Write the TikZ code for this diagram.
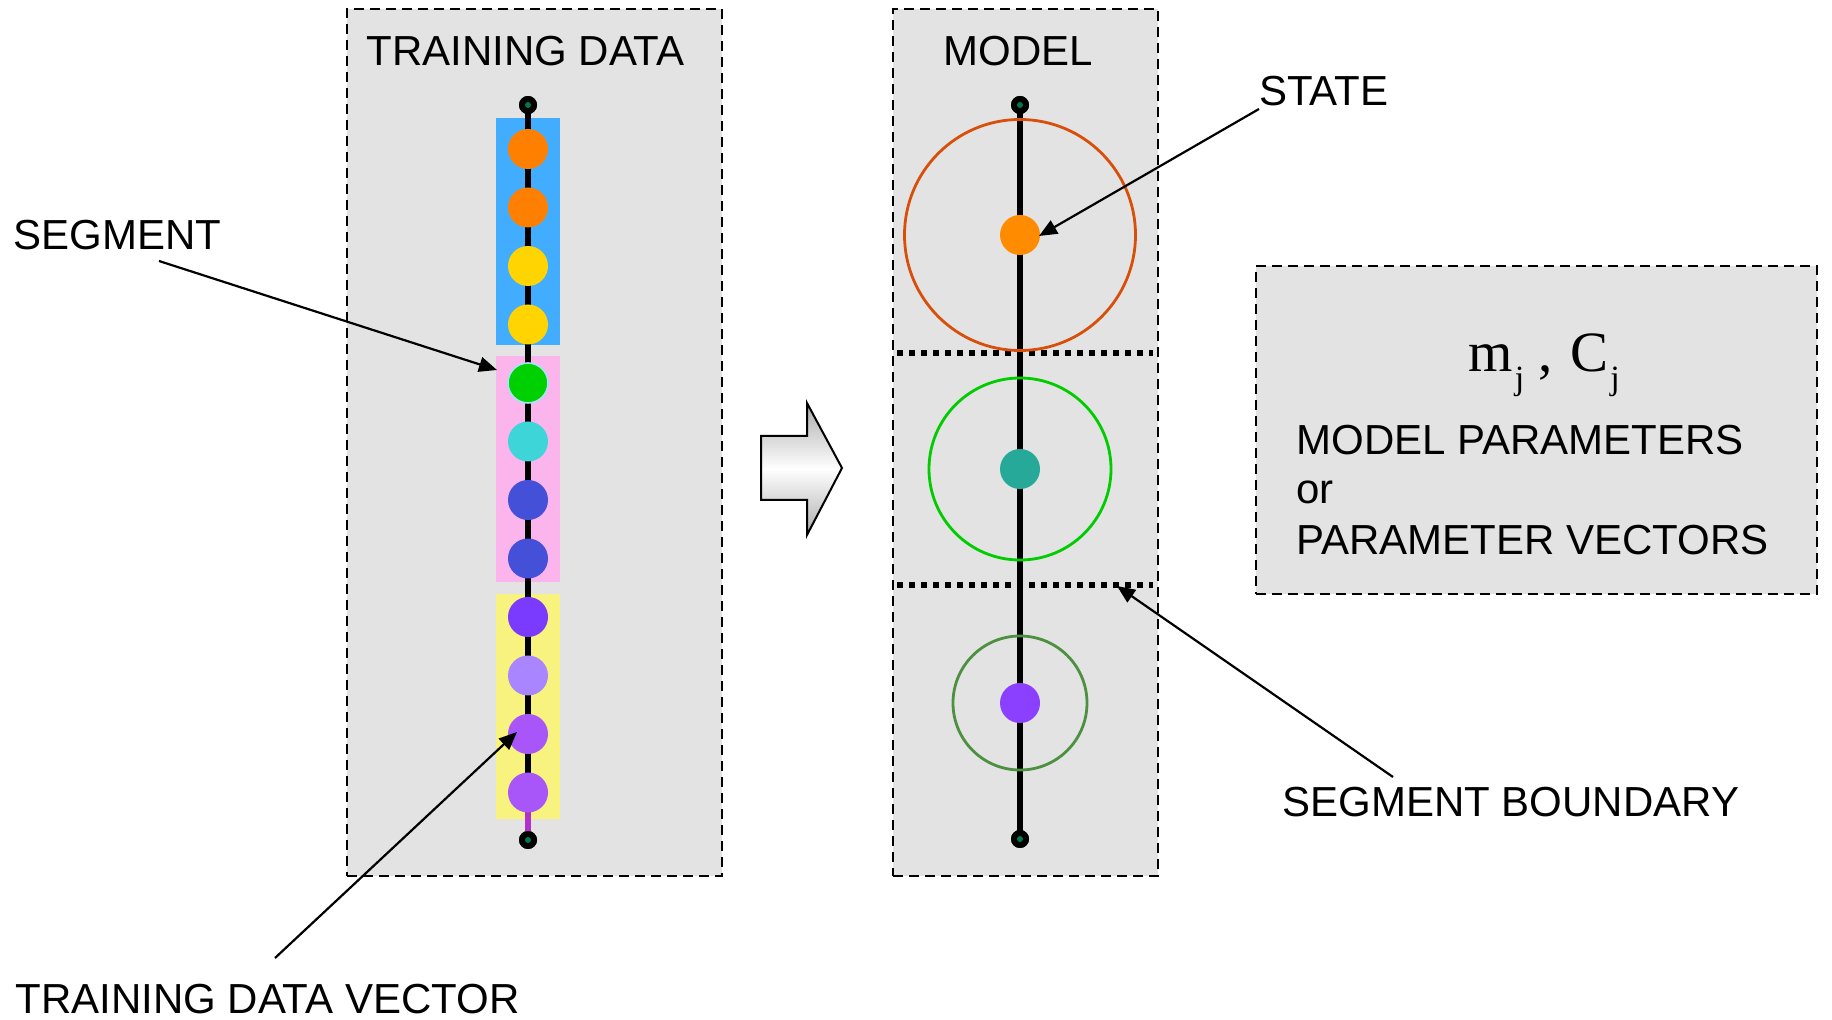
\documentclass[tikz,border=0pt]{standalone}
\usepackage{fontspec}
\setmainfont{Liberation Sans}
\newfontfamily\serifx{Liberation Serif}
\usetikzlibrary{arrows.meta}
\definecolor{panelgray}{HTML}{E3E3E3}
\definecolor{segblue}{HTML}{42ADFF}
\definecolor{segpink}{HTML}{FBB4EC}
\definecolor{segyellow}{HTML}{F8F27E}
\definecolor{cOrange}{HTML}{FF7F00}
\definecolor{cGold}{HTML}{FFD400}
\definecolor{cGreen}{HTML}{00D000}
\definecolor{cCyan}{HTML}{3DD5D8}
\definecolor{cBlue}{HTML}{4450D8}
\definecolor{cViolet}{HTML}{7B3BFF}
\definecolor{cLilac}{HTML}{A985FF}
\definecolor{cPurple}{HTML}{A855FA}
\definecolor{cSeg}{HTML}{B030C8}
\definecolor{dotgreen}{HTML}{007A4A}
\definecolor{ringA}{HTML}{D84F0A}
\definecolor{dotA}{HTML}{FF8C00}
\definecolor{ringB}{HTML}{00CC00}
\definecolor{dotB}{HTML}{27A99A}
\definecolor{ringC}{HTML}{4C9040}
\definecolor{dotC}{HTML}{8C40FF}
\newcommand{\mysubj}{\kern1pt\lower9pt\hbox{\fontsize{17}{17}\selectfont j}}
\begin{document}
\begin{tikzpicture}[x=0.5pt,y=-0.5pt,
  panel/.style={draw=black, fill=panelgray, line width=1.4pt, dash pattern=on 5pt off 3pt, inner sep=0, rectangle},
  lbl/.style={font=\fontsize{21}{25}\selectfont, inner sep=0, anchor=base west},
  vec/.style={circle, inner sep=0, minimum size=20pt},
  enddot/.style={circle, fill=black, inner sep=0, minimum size=9pt,
    path picture={\fill[dotgreen] (path picture bounding box.center) circle (1.5pt);}},
  chainline/.style={line width=3.4pt, black},
  ring/.style={circle, inner sep=0, line width=1.4pt},
  boundary/.style={line width=3pt, dash pattern=on 3pt off 3pt},
  ptr/.style={-{Triangle[length=9pt,width=7.5pt]}, line width=1.1pt},
]
\useasboundingbox (0,0) rectangle (1832,1020);

% panels
\node[panel, minimum width=187.5pt, minimum height=433.5pt] (train) at (534.5,442.5) {};
\node[panel, minimum width=132.5pt, minimum height=433.5pt] (model) at (1025.5,442.5) {};
\node[panel, minimum width=280.5pt, minimum height=164pt] (param) at (1536.5,430) {};

% segment backgrounds
\fill[segblue] (496,118) rectangle (560,345);
\fill[segpink] (496,356) rectangle (560,582);
\fill[segyellow] (496,594) rectangle (560,819);

% training chain
\node[enddot] (ttop) at (528,105) {};
\node[enddot] (tbot) at (528,840) {};
\coordinate (tlast) at (528,792.5);
\draw[chainline] (ttop.center) -- (tlast);
\draw[line width=3.4pt, cSeg] (tlast) -- (tbot.center);
\node[enddot] at (ttop) {};
\node[enddot] at (tbot) {};

\node[vec, fill=cOrange] (t1) at (528,149) {};
\node[vec, fill=cOrange] (t2) at (528,207.5) {};
\node[vec, fill=cGold] (t3) at (528,266) {};
\node[vec, fill=cGold] (t4) at (528,324.5) {};
\node[vec, fill=cGreen, draw=cyan!35, line width=0.8pt] (t5) at (528,383) {};
\node[vec, fill=cCyan] (t6) at (528,441.5) {};
\node[vec, fill=cBlue] (t7) at (528,500) {};
\node[vec, fill=cBlue] (t8) at (528,558.5) {};
\node[vec, fill=cViolet] (t9) at (528,617) {};
\node[vec, fill=cLilac] (t10) at (528,675.5) {};
\node[vec, fill=cPurple] (t11) at (528,734) {};
\node[vec, fill=cPurple] (t12) at (528,792.5) {};

% model
\draw[boundary] (897,353) -- (1153,353);
\draw[boundary] (897,585) -- (1153,585);
\node[enddot] (mtop) at (1020,105) {};
\node[enddot] (mbot) at (1020,839) {};
\draw[chainline] (mtop.center) -- (mbot.center);
\node[enddot] at (mtop) {};
\node[enddot] at (mbot) {};
\node[ring, draw=ringA, minimum size=115.5pt] (r1) at (1020,235) {};
\node[ring, draw=ringB, minimum size=91pt] (r2) at (1020,469) {};
\node[ring, draw=ringC, minimum size=67pt] (r3) at (1020,703) {};
\node[vec, fill=dotA] (s1) at (1020,235) {};
\node[vec, fill=dotB] (s2) at (1020,469) {};
\node[vec, fill=dotC] (s3) at (1020,703) {};

% big arrow
\path[draw=black, line width=1pt, top color=gray!65, bottom color=gray!65, middle color=white]
  (761,436) -- (807,436) -- (807,403) -- (842,468) -- (807,535) -- (807,500) -- (761,500) -- cycle;

% labels
\node[lbl] (ltrain) at (366,66) {TRAINING DATA};
\node[lbl] (lmodel) at (943,66) {MODEL};
\node[lbl] (lstate) at (1259,106) {STATE};
\node[lbl] (lseg) at (13,250) {SEGMENT};
\node[lbl] (ltdv) at (15,1013) {TRAINING DATA VECTOR};
\node[lbl] (lsb) at (1282,817) {SEGMENT BOUNDARY};
\node[lbl] (p1) at (1296,455) {MODEL PARAMETERS};
\node[lbl] (p2) at (1296,504) {or};
\node[lbl] (p3) at (1296,555) {PARAMETER VECTORS};
\node[inner sep=0, anchor=base west, font=\serifx\fontsize{28.5}{32}\selectfont] (mc) at (1468,372)
  {m\mysubj\hspace{7pt},\hspace{9pt}C\mysubj};

% pointer arrows
\coordinate (statefrom) at (1259,109);
\coordinate (statetip) at (1039,236);
\coordinate (segfrom) at (159,261);
\coordinate (segtip) at (497,370);
\coordinate (tdvfrom) at (275,958);
\coordinate (tdvtip) at (517,732);
\coordinate (sbfrom) at (1393,777);
\coordinate (sbtip) at (1117,586);
\draw[ptr] (statefrom) -- (statetip);
\draw[ptr] (segfrom) -- (segtip);
\draw[ptr] (tdvfrom) -- (tdvtip);
\draw[ptr] (sbfrom) -- (sbtip);
\end{tikzpicture}
\end{document}
